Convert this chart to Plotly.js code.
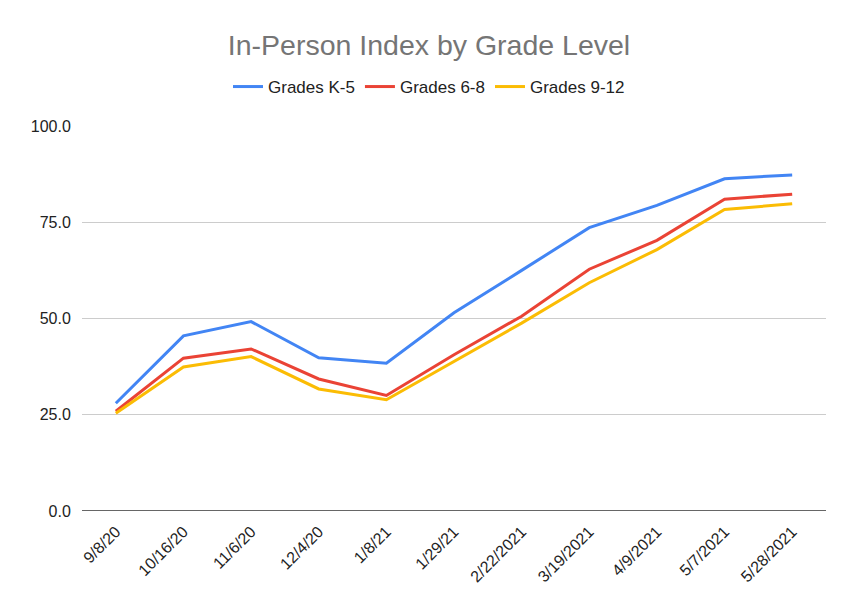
<!DOCTYPE html>
<html>
<head>
<meta charset="utf-8">
<script src="https://cdn.plot.ly/plotly-3.0.1.min.js"></script>
<style>html,body{margin:0;padding:0;background:#fff;}#chart{width:858px;height:611px;}</style>
</head>
<body>
<div id="chart"></div>
<script>
const dates = ["9/8/20","10/16/20","11/6/20","12/4/20","1/8/21","1/29/21","2/22/2021","3/19/2021","4/9/2021","5/7/2021","5/28/2021"];
const gradesK5 = [28.0, 45.5, 49.2, 39.8, 38.4, 51.5, 62.5, 73.6, 79.4, 86.3, 87.3];
const grades68 = [25.9, 39.7, 42.1, 34.3, 30.0, 40.6, 50.6, 62.8, 70.3, 81.0, 82.3];
const grades912 = [25.4, 37.4, 40.1, 31.7, 28.9, 38.9, 48.8, 59.3, 67.9, 78.3, 79.8];
const yTicks = [0, 25, 50, 75, 100];

const mk = (y, name, color) => ({
  x: dates, y: y, name: name, type: 'scatter', mode: 'lines',
  line: {color: color, width: 3}
});
const data = [
  mk(gradesK5, 'Grades K-5', '#4285F4'),
  mk(grades68, 'Grades 6-8', '#EA4335'),
  mk(grades912, 'Grades 9-12', '#FBBC04')
];
const layout = {
  width: 858, height: 611,
  paper_bgcolor: '#fff', plot_bgcolor: '#fff',
  margin: {l: 82, r: 32, t: 126, b: 100},
  font: {family: 'Liberation Sans, Arial, sans-serif', size: 16, color: '#222'},
  title: {text: 'In-Person Index by Grade Level', x: 0.5, xanchor: 'center', y: 0.927, yanchor: 'middle',
          font: {family: 'Liberation Sans, Arial, sans-serif', size: 28.5, color: '#757575'}},
  showlegend: true,
  legend: {orientation: 'h', x: 0.4664, xanchor: 'center', y: 1.0 + 39/385, yanchor: 'middle',
           font: {size: 17, color: '#222'}, itemwidth: 30, traceorder: 'normal'},
  xaxis: {type: 'category', range: [-0.5, 10.5], tickangle: -45, showgrid: false,
          showline: false, zeroline: false, ticks: 'outside', ticklen: 4, tickcolor: 'rgba(0,0,0,0)',
          tickfont: {size: 16, color: '#222'}},
  yaxis: {range: [0, 100], tickvals: yTicks, tickformat: '.1f', showgrid: true, gridcolor: '#cccccc',
          gridwidth: 1, zeroline: false, showline: false, ticks: 'outside', ticklen: 7,
          tickcolor: 'rgba(0,0,0,0)', tickfont: {size: 16, color: '#222'}},
  shapes: [{type: 'line', xref: 'paper', yref: 'y', x0: 0, x1: 1, y0: 0, y1: 0,
            line: {color: '#333', width: 1.5}}]
};
Plotly.newPlot('chart', data, layout, {displayModeBar: false, staticPlot: true});
</script>
</body>
</html>
